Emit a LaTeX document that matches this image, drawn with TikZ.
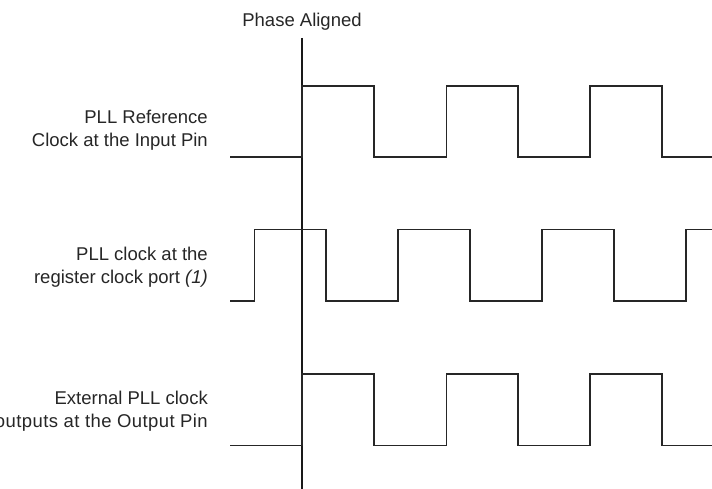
\documentclass[tikz,border=0pt]{standalone}
\usepackage{fontspec}
\setmainfont{Liberation Sans}
\begin{document}
\begin{tikzpicture}[x=1pt,y=1pt,
  wave/.style={line width=1.2pt,draw=black!85,line join=miter},
  guide/.style={line width=1.2pt,draw=black!90},
  lbl/.style={font=\fontsize{18.5}{23}\selectfont,align=right,inner sep=0pt,anchor=base east,text=black!85}]
\useasboundingbox (0,0) rectangle (712,489);
% phase aligned marker
\node[font=\fontsize{18.5}{23}\selectfont,inner sep=0pt,anchor=base,text=black!85] (title) at (302,462.3) {Phase Aligned};
\coordinate (gtop) at (302,451);
\coordinate (gbot) at (302,0);
\draw[guide] (gtop) -- (gbot);
% labels (anchor = baseline of the last line)
\node[lbl] (l1) at (208,342.5) {PLL Reference\\Clock at the Input Pin};
\node[lbl] (l2) at (208,205.7) {PLL clock at the\\register clock port \textit{(1)}};
\node[lbl] (l3) at (208,61.3) {External PLL clock\\{\addfontfeatures{LetterSpace=2.2}outputs at the Output Pin}};
% waveform 1
\draw[wave] (230,332) -- (302,332) -- (302,403) -- (374,403) -- (374,332) -- (446.5,332) -- (446.5,403) -- (518,403) -- (518,332) -- (590,332) -- (590,403) -- (662,403) -- (662,332) -- (712,332);
% waveform 2
\draw[wave] (230,188) -- (254.5,188) -- (254.5,259.3) -- (326,259.3) -- (326,188) -- (398,188) -- (398,259.3) -- (470,259.3) -- (470,188) -- (542,188) -- (542,259.3) -- (614,259.3) -- (614,188) -- (686,188) -- (686,259.3) -- (712,259.3);
% waveform 3
\draw[wave] (230,43.3) -- (302,43.3) -- (302,115) -- (374,115) -- (374,43.3) -- (446.5,43.3) -- (446.5,115) -- (518,115) -- (518,43.3) -- (590,43.3) -- (590,115) -- (662,115) -- (662,43.3) -- (712,43.3);
\end{tikzpicture}
\end{document}
